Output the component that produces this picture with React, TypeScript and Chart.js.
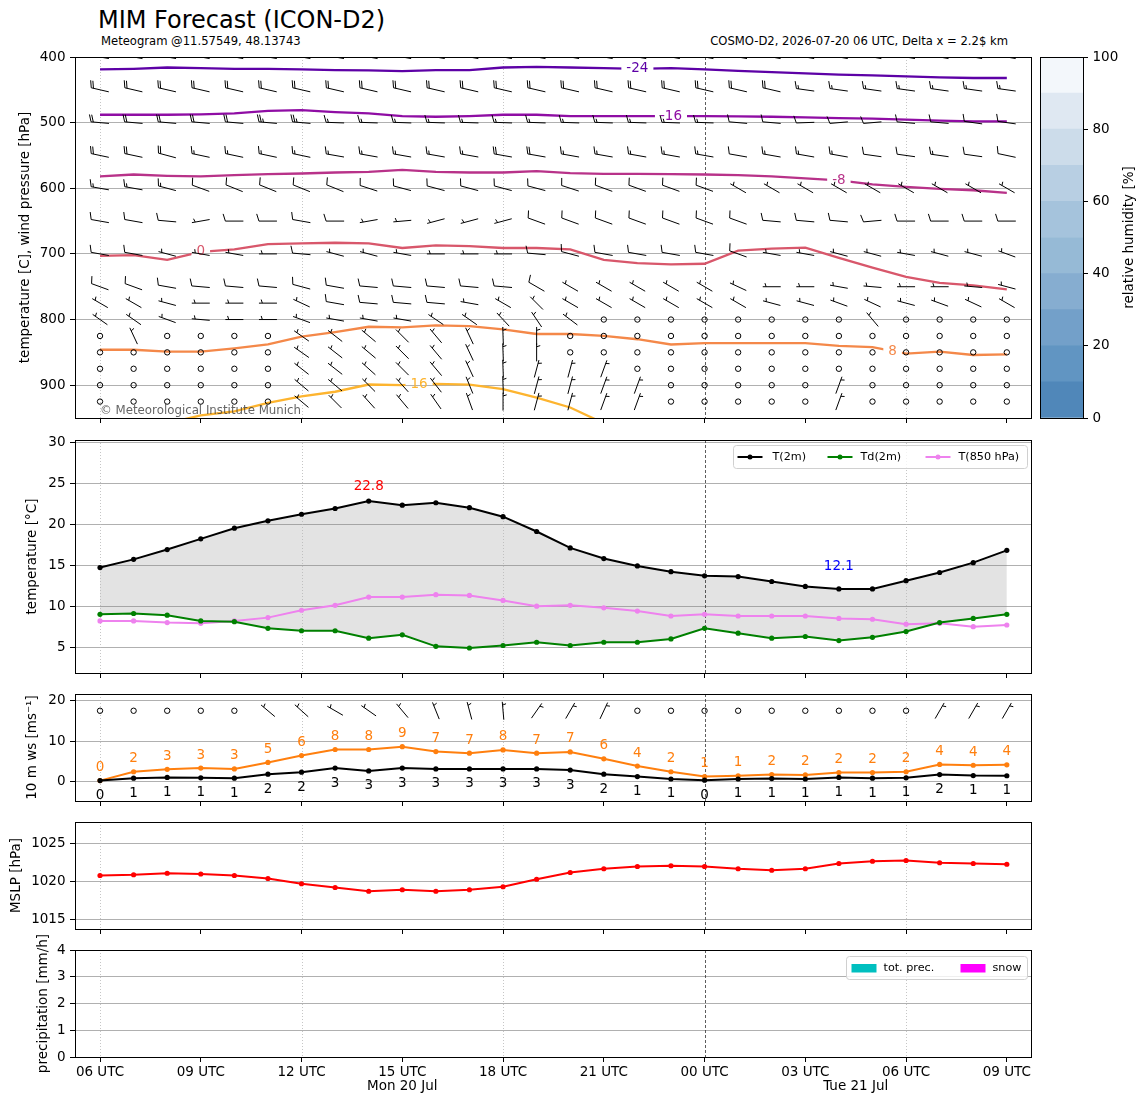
import React, { useEffect, useRef } from 'react';
import { Chart, registerables } from 'chart.js';

Chart.register(...registerables);

const FONT = '"DejaVu Sans", "Liberation Sans", sans-serif';
const FS = 13.5;

// ---------------- time axis (hours after 2026-07-20 06 UTC) ----------------
const HOURS = [0, 1, 2, 3, 4, 5, 6, 7, 8, 9, 10, 11, 12, 13, 14, 15, 16, 17, 18, 19, 20, 21, 22, 23, 24, 25, 26, 27];
const X_MIN = -0.745;
const X_MAX = 27.72;
const TICK_HOURS = [0, 3, 6, 9, 12, 15, 18, 21, 24, 27];
const TICK_LABELS = ['06 UTC', '09 UTC', '12 UTC', '15 UTC', '18 UTC', '21 UTC', '00 UTC', '03 UTC', '06 UTC', '09 UTC'];
const DAY_LABELS = ['Mon 20 Jul', 'Tue 21 Jul'];
const DAY_LABEL_HOURS = [9, 22.5];
const DOTTED_HOURS = [0, 6, 12, 24];
const MIDNIGHT_HOURS = [18];

// ---------------- upper panel: isotherms (pressure in hPa per hour) ----------------
const ISO_M24 = [419, 418, 416, 417, 418, 418, 419, 420, 420.5, 421.5, 420, 420, 416, 415, 416, 417, 418, 417, 419, 421, 423, 425, 427, 428, 429.5, 431, 432, 432];
const ISO_M16 = [488, 488, 488, 487.5, 486, 482, 481, 484, 486, 490, 491, 490, 488, 488, 490, 490, 490, 490, 490, 490.5, 491, 492, 493, 494, 495.5, 497, 498, 498];
const ISO_M8 = [582, 579, 581, 582, 580, 578.5, 577.5, 576, 575, 572, 575, 576, 576, 574, 577, 578, 578, 578.5, 579, 580, 582, 585, 588, 594, 598, 601, 603, 607];
const ISO_0 = [703, 702, 709, 697, 693, 685, 684, 683, 684, 691, 687, 688, 691, 691, 693, 709, 714, 716, 715, 695, 692, 690.5, 706, 721, 735, 744, 748, 754];
const ISO_P8 = [846, 846, 849, 849, 844, 838, 826, 819, 811, 812, 809, 810, 815, 822, 822, 825, 830, 838, 836, 836, 836, 836, 840, 842, 852, 849, 854, 853];
const ISO_P16 = [null, null, 958, 946, 940, 927, 917, 910, 899, 900, 898, 899, 906, 919, 934, 958, null, null, null, null, null, null, null, null, null, null, null, null];
const ISO_LABELS = ['-24', '-16', '-8', '0', '8', '16'];
const ISO_COLORS = ['#5d01a6', '#8f0da4', '#b83289', '#d8576b', '#f48849', '#fdb42f'];
const ISO_LABEL_HOURS = [16, 17, 22, 3, 23.6, 9.5];

// ---------------- upper panel: wind barbs (speed kt, direction deg) ----------------
const BARB_LEVELS = [400, 450, 500, 550, 600, 650, 700, 750, 775, 800, 825, 850, 875, 900, 925];
const WS_400 = [20, 20, 20, 20, 20, 20, 20, 20, 20, 20, 20, 20, 20, 20, 20, 20, 20, 20, 20, 20, 20, 20, 20, 20, 20, 20, 20, 20];
const DIR_400 = [280, 280, 280, 280, 280, 280, 280, 280, 280, 280, 280, 280, 280, 280, 280, 280, 280, 280, 280, 280, 280, 280, 280, 280, 280, 280, 280, 280];
const WS_450 = [20, 20, 20, 20, 20, 20, 20, 20, 20, 20, 20, 20, 20, 20, 20, 20, 20, 20, 20, 20, 20, 15, 15, 15, 15, 15, 15, 15];
const DIR_450 = [283, 283, 283, 283, 283, 283, 283, 283, 283, 283, 283, 283, 283, 283, 283, 283, 283, 283, 283, 283, 283, 278, 278, 278, 278, 278, 278, 278];
const WS_500 = [20, 20, 20, 20, 20, 25, 25, 15, 15, 15, 15, 15, 15, 15, 15, 15, 15, 15, 15, 10, 10, 10, 10, 10, 10, 10, 10, 10];
const DIR_500 = [275, 275, 275, 275, 275, 275, 275, 272, 272, 272, 272, 272, 272, 272, 272, 272, 272, 272, 272, 275, 275, 268, 265, 265, 275, 275, 278, 278];
const WS_550 = [20, 20, 20, 15, 15, 15, 15, 15, 15, 15, 15, 15, 20, 20, 15, 15, 15, 15, 15, 10, 15, 15, 15, 10, 10, 15, 10, 10];
const DIR_550 = [282, 282, 285, 282, 282, 282, 282, 280, 280, 280, 280, 280, 280, 280, 280, 280, 280, 280, 280, 280, 280, 280, 280, 278, 278, 278, 278, 282];
const WS_600 = [15, 15, 15, 10, 10, 10, 10, 10, 10, 10, 10, 10, 10, 10, 10, 10, 10, 10, 10, 5, 5, 5, 5, 5, 5, 5, 5, 5];
const DIR_600 = [280, 280, 285, 290, 292, 292, 292, 292, 288, 285, 285, 285, 285, 285, 288, 290, 290, 290, 290, 300, 300, 300, 300, 300, 300, 300, 300, 300];
const WS_650 = [10, 10, 10, 5, 10, 10, 10, 10, 5, 5, 5, 5, 5, 10, 10, 10, 10, 10, 10, 10, 10, 10, 10, 10, 10, 10, 10, 10];
const DIR_650 = [280, 280, 275, 260, 270, 270, 280, 270, 260, 265, 255, 255, 255, 290, 290, 290, 290, 290, 290, 290, 275, 275, 275, 265, 270, 270, 270, 270];
const WS_700 = [10, 10, 5, 5, 5, 5, 10, 5, 5, 5, 5, 5, 5, 10, 10, 10, 10, 10, 10, 10, 5, 5, 5, 5, 5, 5, 5, 5];
const DIR_700 = [280, 280, 285, 280, 280, 270, 275, 285, 285, 280, 270, 270, 270, 275, 285, 280, 280, 280, 280, 290, 280, 280, 285, 285, 280, 285, 285, 290];
const WS_750 = [10, 10, 10, 10, 10, 10, 10, 10, 10, 10, 10, 10, 10, 10, 5, 5, 5, 5, 5, 5, 5, 5, 5, 5, 5, 5, 5, 5];
const DIR_750 = [290, 290, 280, 275, 275, 275, 285, 280, 275, 275, 275, 275, 275, 300, 300, 300, 300, 300, 300, 295, 270, 270, 280, 275, 270, 270, 275, 285];
const WS_775 = [5, 5, 5, 5, 5, 5, 5, 10, 10, 10, 10, 5, 5, 5, 5, 5, 5, 5, 5, 5, 5, 5, 5, 5, 5, 5, 5, 5];
const DIR_775 = [300, 300, 285, 270, 270, 270, 295, 280, 275, 275, 275, 280, 300, 315, 300, 300, 300, 300, 300, 300, 285, 285, 290, 295, 285, 290, 295, 300];
const WS_800 = [5, 5, 5, 5, 5, 5, 5, 5, 5, 5, 5, 5, 5, 5, 5, 0, 0, 0, 0, 0, 0, 0, 0, 5, 0, 0, 0, 0];
const DIR_800 = [305, 305, 290, 275, 270, 270, 290, 280, 280, 280, 304, 305, 317, 326, 307, 0, 0, 0, 0, 0, 0, 0, 0, 320, 0, 0, 0, 0];
const WS_825 = [0, 5, 0, 0, 0, 0, 5, 5, 5, 5, 5, 5, 5, 5, 0, 0, 0, 0, 0, 0, 0, 0, 0, 0, 0, 0, 0, 0];
const DIR_825 = [0, 335, 0, 0, 0, 0, 305, 308, 310, 315, 320, 335, 358, 360, 0, 0, 0, 0, 0, 0, 0, 0, 0, 0, 0, 0, 0, 0];
const WS_850 = [0, 0, 0, 0, 0, 0, 5, 5, 5, 5, 5, 5, 5, 5, 0, 0, 0, 0, 0, 0, 0, 0, 0, 0, 0, 0, 0, 0];
const DIR_850 = [0, 0, 0, 0, 0, 0, 305, 308, 310, 315, 320, 335, 358, 360, 0, 0, 0, 0, 0, 0, 0, 0, 0, 0, 0, 0, 0, 0];
const WS_875 = [0, 0, 0, 0, 0, 0, 5, 5, 5, 5, 5, 5, 5, 5, 5, 5, 0, 0, 0, 0, 0, 0, 0, 0, 0, 0, 0, 0];
const DIR_875 = [0, 0, 0, 0, 0, 0, 308, 308, 312, 315, 320, 335, 358, 15, 15, 20, 0, 0, 0, 0, 0, 0, 0, 0, 0, 0, 0, 0];
const WS_900 = [0, 0, 0, 0, 0, 0, 5, 5, 5, 5, 5, 5, 5, 5, 5, 5, 5, 0, 0, 0, 0, 0, 5, 0, 0, 0, 0, 0];
const DIR_900 = [0, 0, 0, 0, 0, 0, 310, 310, 315, 318, 322, 338, 358, 15, 15, 20, 20, 0, 0, 0, 0, 0, 20, 0, 0, 0, 0, 0];
const WS_925 = [0, 0, 0, 0, 0, 0, 5, 5, 5, 5, 5, 5, 5, 5, 5, 5, 5, 0, 0, 0, 0, 0, 5, 0, 0, 0, 0, 0];
const DIR_925 = [0, 0, 0, 0, 0, 0, 310, 315, 318, 320, 325, 340, 360, 15, 15, 20, 20, 0, 0, 0, 0, 0, 20, 0, 0, 0, 0, 0];

// ---------------- relative humidity colour bar ----------------
const RH_BOUNDS = [0, 10, 20, 30, 40, 50, 60, 70, 80, 90, 100];
const RH_COLORS = ['#5087b9', '#6195c2', '#73a0c9', '#86add0', '#96bad6', '#a5c3dc', '#b8cfe3', '#ccdcea', '#dfe8f2', '#f3f7fb'];
const RH_TICKS = [0, 20, 40, 60, 80, 100];

// ---------------- 2 m temperature panel ----------------
const T2M = [14.7, 15.7, 16.9, 18.2, 19.5, 20.4, 21.2, 21.9, 22.8, 22.3, 22.6, 22.0, 20.9, 19.1, 17.1, 15.8, 14.9, 14.2, 13.7, 13.6, 13.0, 12.4, 12.1, 12.1, 13.1, 14.1, 15.3, 16.8];
const TD2M = [9.0, 9.1, 8.9, 8.2, 8.1, 7.3, 7.0, 7.0, 6.1, 6.5, 5.1, 4.9, 5.2, 5.6, 5.2, 5.6, 5.6, 6.0, 7.3, 6.7, 6.1, 6.3, 5.8, 6.2, 6.9, 8.0, 8.5, 9.0];
const T850 = [8.2, 8.2, 8.0, 7.9, 8.2, 8.6, 9.5, 10.1, 11.1, 11.1, 11.4, 11.3, 10.7, 10.0, 10.1, 9.8, 9.4, 8.8, 9.0, 8.8, 8.8, 8.8, 8.5, 8.4, 7.8, 7.9, 7.5, 7.7];
const TEMP_TICKS = [5, 10, 15, 20, 25, 30];

// ---------------- 10 m wind panel (m/s) ----------------
const WS10 = [0.2, 0.8, 1.0, 0.9, 0.8, 1.8, 2.3, 3.3, 2.6, 3.3, 3.1, 3.1, 3.1, 3.1, 2.8, 1.8, 1.2, 0.6, 0.3, 0.6, 0.7, 0.6, 1.0, 0.8, 0.9, 1.7, 1.45, 1.4];
const GUST10 = [0.2, 2.4, 3.0, 3.3, 3.1, 4.7, 6.4, 7.9, 7.9, 8.6, 7.4, 7.0, 7.8, 7.0, 7.3, 5.6, 3.8, 2.4, 1.2, 1.4, 1.7, 1.6, 2.2, 2.2, 2.4, 4.2, 4.0, 4.1];
const DIR10 = [330, 330, 330, 330, 330, 310, 312, 300, 305, 320, 338, 345, 355, 35, 30, 25, 20, 20, 20, 20, 20, 20, 20, 20, 20, 30, 30, 30];
const WIND_TICKS = [0, 10, 20];
const WIND_BARB_Y = 17.5;
const MS_TO_KT = 1.94384;

// ---------------- MSLP panel ----------------
const MSLP = [1020.8, 1020.9, 1021.1, 1021.0, 1020.8, 1020.4, 1019.7, 1019.2, 1018.7, 1018.9, 1018.7, 1018.9, 1019.3, 1020.3, 1021.2, 1021.7, 1022.0, 1022.1, 1022.0, 1021.7, 1021.5, 1021.7, 1022.4, 1022.7, 1022.8, 1022.5, 1022.4, 1022.3];
const MSLP_TICKS = [1015, 1020, 1025];

// ---------------- precipitation panel ----------------
const PREC_TOTAL = [0, 0, 0, 0, 0, 0, 0, 0, 0, 0, 0, 0, 0, 0, 0, 0, 0, 0, 0, 0, 0, 0, 0, 0, 0, 0, 0, 0];
const PREC_SNOW = [0, 0, 0, 0, 0, 0, 0, 0, 0, 0, 0, 0, 0, 0, 0, 0, 0, 0, 0, 0, 0, 0, 0, 0, 0, 0, 0, 0];
const PREC_TICKS = [0, 1, 2, 3, 4];

// ---------------- layout ----------------
const CANVAS_W = 1148;
const PLOT_LEFT = 75;
const PLOT_RIGHT = 1031;
const PANEL_TOPS = [57, 440, 694, 822, 950];
const PANEL_BOTTOMS = [418, 673, 801, 929, 1057];
const TITLE_X = [25, 32, 32, 16, 43];
const PAD_TOP = 16;
const PAD_BOTTOM = 8;
const XAXIS_SMALL = 6;
const XAXIS_BIG = 46;
const BARB_LEN = 18;

const ISOTHERMS = [ISO_M24, ISO_M16, ISO_M8, ISO_0, ISO_P8, ISO_P16].map((data, k) => ({
  data,
  label: ISO_LABELS[k],
  color: ISO_COLORS[k],
  labelHour: ISO_LABEL_HOURS[k],
}));

const BARB_ROWS = [
  [WS_400, DIR_400], [WS_450, DIR_450], [WS_500, DIR_500], [WS_550, DIR_550], [WS_600, DIR_600],
  [WS_650, DIR_650], [WS_700, DIR_700], [WS_750, DIR_750], [WS_775, DIR_775], [WS_800, DIR_800],
  [WS_825, DIR_825], [WS_850, DIR_850], [WS_875, DIR_875], [WS_900, DIR_900], [WS_925, DIR_925],
].map((r, k) => ({ level: BARB_LEVELS[k], speed: r[0], dir: r[1] }));

function interp(arr: (number | null)[], h: number): number {
  const i0 = Math.floor(h);
  const i1 = Math.min(i0 + 1, arr.length - 1);
  const a = arr[i0] as number;
  const b = arr[i1] as number;
  return a + (b - a) * (h - i0);
}

function drawBarb(ctx: CanvasRenderingContext2D, cx: number, cy: number, speedKt: number, dirDeg: number, L: number) {
  const HALF = 5, FULL = 10, FLAG = 50;
  let mag = HALF * Math.round(speedKt / HALF);
  const nFlags = Math.floor(mag / FLAG);
  mag -= nFlags * FLAG;
  const nBarbs = Math.floor(mag / FULL);
  mag -= nBarbs * FULL;
  const half = mag >= HALF;
  ctx.beginPath();
  if (nFlags === 0 && nBarbs === 0 && !half) {
    ctx.arc(cx, cy, 0.15 * L, 0, Math.PI * 2);
    ctx.stroke();
    return;
  }
  const rad = (dirDeg * Math.PI) / 180;
  const u = -Math.sin(rad);
  const v = -Math.cos(rad);
  const th = Math.atan2(v, u) + Math.PI / 2;
  const c = Math.cos(th), s = Math.sin(th);
  const P = (bx: number, by: number) => [cx + bx * c - by * s, cy - (bx * s + by * c)];
  const spacing = L * 0.125, fh = L * 0.4, fw = L * 0.25;
  const endy = -L / 2;
  let p = P(0, endy);
  ctx.moveTo(p[0], p[1]);
  p = P(0, endy + L);
  ctx.lineTo(p[0], p[1]);
  let offset = L;
  for (let i = 0; i < nFlags; i++) {
    const a = P(0, endy + offset), b = P(fh, endy - fw / 2 + offset), d = P(0, endy - fw + offset);
    ctx.moveTo(a[0], a[1]);
    ctx.lineTo(b[0], b[1]);
    ctx.lineTo(d[0], d[1]);
    offset -= fw + spacing;
  }
  for (let i = 0; i < nBarbs; i++) {
    const a = P(0, endy + offset), b = P(fh, endy + offset + fw / 2);
    ctx.moveTo(a[0], a[1]);
    ctx.lineTo(b[0], b[1]);
    offset -= spacing;
  }
  if (half) {
    if (offset === L) offset -= 1.5 * spacing;
    const a = P(0, endy + offset), b = P(fh / 2, endy + offset + fw / 4);
    ctx.moveTo(a[0], a[1]);
    ctx.lineTo(b[0], b[1]);
  }
  ctx.stroke();
}

const font = (size = FS) => `${size}px ${FONT}`;

function xAxis(showLabels: boolean): any {
  return {
    type: 'linear',
    min: X_MIN,
    max: X_MAX,
    offset: false,
    afterBuildTicks: (s: any) => {
      s.ticks = TICK_HOURS.map((v) => ({ value: v }));
    },
    afterFit: (s: any) => {
      s.height = showLabels ? XAXIS_BIG : XAXIS_SMALL;
    },
    grid: { offset: false, drawOnChartArea: false, drawTicks: true, tickLength: 5, tickColor: '#000', lineWidth: 1 },
    border: { display: false },
    ticks: {
      display: showLabels,
      autoSkip: false,
      maxRotation: 0,
      minRotation: 0,
      padding: 2,
      color: '#000',
      font: { family: FONT, size: FS },
      callback: (_v: number, i: number) => TICK_LABELS[i],
    },
  };
}

function yAxis(o: { min: number; max: number; ticks: number[]; title: string; titleX: number; reverse?: boolean }): any {
  const padLeft = o.titleX - FS * 0.6;
  return {
    type: 'linear',
    min: o.min,
    max: o.max,
    reverse: !!o.reverse,
    afterBuildTicks: (s: any) => {
      s.ticks = o.ticks.map((v) => ({ value: v }));
    },
    afterFit: (s: any) => {
      s.width = PLOT_LEFT - padLeft;
    },
    grid: { color: '#b0b0b0', lineWidth: 1, drawTicks: true, tickLength: 5, tickColor: '#000' },
    border: { display: false },
    ticks: { color: '#000', padding: 4.5, font: { family: FONT, size: FS }, callback: (v: number) => String(v) },
    title: { display: true, text: o.title, color: '#000', font: { family: FONT, size: FS }, padding: 0 },
  };
}

const framePlugin = {
  id: 'frame',
  beforeDatasetsDraw(chart: any) {
    const { ctx, chartArea: a, scales } = chart;
    const x = scales.x;
    ctx.save();
    ctx.lineWidth = 0.8;
    ctx.strokeStyle = '#b8b8b8';
    ctx.setLineDash([1, 2]);
    for (const h of DOTTED_HOURS) {
      const px = Math.round(x.getPixelForValue(h)) + 0.5;
      ctx.beginPath();
      ctx.moveTo(px, a.top);
      ctx.lineTo(px, a.bottom);
      ctx.stroke();
    }
    ctx.strokeStyle = '#333';
    ctx.setLineDash([3, 2]);
    for (const h of MIDNIGHT_HOURS) {
      const px = Math.round(x.getPixelForValue(h)) + 0.5;
      ctx.beginPath();
      ctx.moveTo(px, a.top);
      ctx.lineTo(px, a.bottom);
      ctx.stroke();
    }
    ctx.restore();
  },
  afterDraw(chart: any) {
    const { ctx, chartArea: a } = chart;
    ctx.save();
    ctx.strokeStyle = '#000';
    ctx.lineWidth = 1;
    ctx.setLineDash([]);
    ctx.strokeRect(Math.round(a.left) + 0.5, Math.round(a.top) + 0.5, Math.round(a.right - a.left), Math.round(a.bottom - a.top));
    ctx.restore();
  },
};

const topPlugin = {
  id: 'topPanel',
  beforeDatasetsDraw(chart: any) {
    const { ctx, scales } = chart;
    const { x, y } = scales;
    ctx.save();
    ctx.font = font();
    ctx.beginPath();
    ctx.rect(0, 0, chart.width, chart.height);
    ISOTHERMS.forEach((iso) => {
      const px = x.getPixelForValue(iso.labelHour);
      const py = y.getPixelForValue(interp(iso.data, iso.labelHour));
      const w = ctx.measureText(iso.label).width + 10;
      ctx.rect(px - w / 2, py - 8, w, 16);
    });
    ctx.clip('evenodd');
  },
  afterDatasetsDraw(chart: any) {
    const { ctx, chartArea: a, scales } = chart;
    const { x, y } = scales;
    ctx.restore();
    ctx.save();
    ctx.font = font();
    ctx.textAlign = 'center';
    ctx.textBaseline = 'middle';
    ISOTHERMS.forEach((iso) => {
      const px = x.getPixelForValue(iso.labelHour);
      const py = y.getPixelForValue(interp(iso.data, iso.labelHour));
      ctx.fillStyle = iso.color;
      ctx.fillText(iso.label, px, py);
    });
    ctx.beginPath();
    ctx.rect(a.left, a.top, a.right - a.left, a.bottom - a.top);
    ctx.clip();
    ctx.strokeStyle = '#000';
    ctx.fillStyle = '#000';
    ctx.lineWidth = 1;
    BARB_ROWS.forEach((row) => {
      HOURS.forEach((h, i) => {
        drawBarb(ctx, x.getPixelForValue(h), y.getPixelForValue(row.level), row.speed[i], row.dir[i], BARB_LEN);
      });
    });
    ctx.fillStyle = 'rgba(60,60,60,0.8)';
    ctx.font = font(11.8);
    ctx.textAlign = 'left';
    ctx.textBaseline = 'alphabetic';
    ctx.fillText('\u00A9 Meteorological Institute Munich', a.left + 25, a.bottom - 4.5);
    ctx.restore();
  },
};

const LEGEND_T = [
  { label: 'T(2m)', color: '#000000', lineX: 4, textX: 39 },
  { label: 'Td(2m)', color: '#008000', lineX: 94, textX: 127 },
  { label: 'T(850 hPa)', color: '#ee82ee', lineX: 192, textX: 225 },
];

function drawLegendBox(ctx: CanvasRenderingContext2D, left: number, top: number, w: number, h: number) {
  ctx.beginPath();
  const r = 3;
  ctx.moveTo(left + r, top);
  ctx.lineTo(left + w - r, top);
  ctx.arcTo(left + w, top, left + w, top + r, r);
  ctx.lineTo(left + w, top + h - r);
  ctx.arcTo(left + w, top + h, left + w - r, top + h, r);
  ctx.lineTo(left + r, top + h);
  ctx.arcTo(left, top + h, left, top + h - r, r);
  ctx.lineTo(left, top + r);
  ctx.arcTo(left, top, left + r, top, r);
  ctx.closePath();
  ctx.fillStyle = 'rgba(255,255,255,0.8)';
  ctx.fill();
  ctx.strokeStyle = '#d0d0d0';
  ctx.lineWidth = 1;
  ctx.stroke();
}

const tempPlugin = {
  id: 'tempPanel',
  afterDatasetsDraw(chart: any) {
    const { ctx, chartArea: a, scales } = chart;
    const { x, y } = scales;
    let iMax = 0, iMin = 0;
    T2M.forEach((v, i) => {
      if (v > T2M[iMax]) iMax = i;
      if (v < T2M[iMin]) iMin = i;
    });
    ctx.save();
    ctx.font = font();
    ctx.textAlign = 'center';
    ctx.textBaseline = 'middle';
    ctx.fillStyle = '#ff0000';
    ctx.fillText(T2M[iMax].toFixed(1), x.getPixelForValue(HOURS[iMax]), y.getPixelForValue(T2M[iMax]) - 15);
    ctx.fillStyle = '#0000ff';
    ctx.fillText(T2M[iMin].toFixed(1), x.getPixelForValue(HOURS[iMin]), y.getPixelForValue(T2M[iMin]) - 22);

    const bw = 294, bh = 23;
    const left = Math.round(a.right) - 4 - bw + 0.5;
    const top = Math.round(a.top) + 5 + 0.5;
    drawLegendBox(ctx, left, top, bw, bh);
    ctx.font = font(11.2);
    ctx.textAlign = 'left';
    LEGEND_T.forEach((it) => {
      const cy = top + bh / 2;
      ctx.strokeStyle = it.color;
      ctx.lineWidth = 2;
      ctx.beginPath();
      ctx.moveTo(left + it.lineX, cy);
      ctx.lineTo(left + it.lineX + 25, cy);
      ctx.stroke();
      ctx.fillStyle = it.color;
      ctx.beginPath();
      ctx.arc(left + it.lineX + 12.5, cy, 2.5, 0, Math.PI * 2);
      ctx.fill();
      ctx.fillStyle = '#000';
      ctx.fillText(it.label, left + it.textX, cy);
    });
    ctx.restore();
  },
};

const windPlugin = {
  id: 'windPanel',
  afterDatasetsDraw(chart: any) {
    const { ctx, scales } = chart;
    const { x, y } = scales;
    ctx.save();
    ctx.font = font();
    ctx.textAlign = 'center';
    ctx.textBaseline = 'middle';
    ctx.strokeStyle = '#000';
    ctx.lineWidth = 1;
    HOURS.forEach((h, i) => {
      const px = x.getPixelForValue(h);
      ctx.fillStyle = '#ff7f0e';
      ctx.fillText(String(Math.round(GUST10[i])), px, y.getPixelForValue(GUST10[i]) - 13);
      ctx.fillStyle = '#000';
      ctx.fillText(String(Math.round(WS10[i])), px, y.getPixelForValue(WS10[i]) + 15);
      drawBarb(ctx, px, y.getPixelForValue(WIND_BARB_Y), WS10[i] * MS_TO_KT, DIR10[i], BARB_LEN);
    });
    ctx.restore();
  },
};

const LEGEND_P = [
  { label: 'tot. prec.', color: '#00bfbf', patchX: 5, textX: 37 },
  { label: 'snow', color: '#ff00ff', patchX: 114, textX: 146 },
];

const precPlugin = {
  id: 'precPanel',
  afterDraw(chart: any) {
    const { ctx, chartArea: a, scales } = chart;
    const x = scales.x;
    ctx.save();
    const bw = 181, bh = 23;
    const left = Math.round(a.right) - 4 - bw + 0.5;
    const top = Math.round(a.top) + 6 + 0.5;
    drawLegendBox(ctx, left, top, bw, bh);
    ctx.font = font(11.2);
    ctx.textAlign = 'left';
    ctx.textBaseline = 'middle';
    LEGEND_P.forEach((it) => {
      const cy = top + bh / 2;
      ctx.fillStyle = it.color;
      ctx.fillRect(left + it.patchX, cy - 4, 25, 8.5);
      ctx.fillStyle = '#000';
      ctx.fillText(it.label, left + it.textX, cy);
    });
    ctx.font = font();
    ctx.textAlign = 'center';
    DAY_LABELS.forEach((t, k) => {
      ctx.fillText(t, x.getPixelForValue(DAY_LABEL_HOURS[k]), a.bottom + 29.7);
    });
    ctx.restore();
  },
};

const colorbarPlugin = {
  id: 'colorbar',
  afterDraw(chart: any) {
    const { ctx, chartArea: a } = chart;
    ctx.save();
    ctx.strokeStyle = '#000';
    ctx.lineWidth = 1;
    ctx.strokeRect(Math.round(a.left) + 0.5, Math.round(a.top) + 0.5, Math.round(a.right - a.left), Math.round(a.bottom - a.top));
    ctx.translate(99, (a.top + a.bottom) / 2);
    ctx.rotate(-Math.PI / 2);
    ctx.font = font();
    ctx.fillStyle = '#000';
    ctx.textAlign = 'center';
    ctx.textBaseline = 'middle';
    ctx.fillText('relative humidity [%]', 0, 0);
    ctx.restore();
  },
};

const pts = (vals: (number | null)[]) => HOURS.map((h, i) => ({ x: h, y: vals[i] }));

function panelGeom(k: number) {
  const last = k === 4;
  const h = PAD_TOP + (PANEL_BOTTOMS[k] - PANEL_TOPS[k]) + (last ? XAXIS_BIG : XAXIS_SMALL + PAD_BOTTOM);
  return { left: 0, top: PANEL_TOPS[k] - PAD_TOP, width: CANVAS_W, height: h };
}

function makePanel(canvas: HTMLCanvasElement, k: number, type: any, datasets: any[], y: any, plugins: any[]) {
  const last = k === 4;
  return new Chart(canvas, {
    type,
    data: { datasets },
    options: {
      animation: false,
      responsive: false,
      maintainAspectRatio: false,
      layout: {
        padding: { left: TITLE_X[k] - FS * 0.6, right: CANVAS_W - PLOT_RIGHT, top: PAD_TOP, bottom: last ? 0 : PAD_BOTTOM },
      },
      plugins: {
        legend: { display: false },
        tooltip: { enabled: false },
        filler: { drawTime: 'beforeDatasetsDraw' },
      },
      elements: { line: { tension: 0 } },
      scales: { x: xAxis(last), y },
    } as any,
    plugins: [framePlugin, ...plugins],
  });
}

const lineDs = (label: string, vals: number[], color: string, extra: any = {}) => ({
  label,
  data: pts(vals),
  borderColor: color,
  backgroundColor: color,
  borderWidth: 2,
  pointRadius: 2.6,
  pointBorderWidth: 0,
  pointBackgroundColor: color,
  fill: false,
  ...extra,
});

const PANELS = [
  {
    geom: panelGeom(0),
    build: (c: HTMLCanvasElement) =>
      makePanel(
        c,
        0,
        'line',
        ISOTHERMS.map((iso) => ({
          label: iso.label,
          data: pts(iso.data),
          borderColor: iso.color,
          borderWidth: 2.3,
          pointRadius: 0,
          fill: false,
          spanGaps: false,
        })),
        yAxis({ min: 400, max: 950, ticks: [400, 500, 600, 700, 800, 900], title: 'temperature [C], wind pressure [hPa]', titleX: TITLE_X[0], reverse: true }),
        [topPlugin]
      ),
  },
  {
    geom: panelGeom(1),
    build: (c: HTMLCanvasElement) =>
      makePanel(
        c,
        1,
        'line',
        [
          lineDs('T(2m)', T2M, '#000000', { fill: { target: 1, above: 'rgba(128,128,128,0.22)', below: 'rgba(128,128,128,0.22)' } }),
          lineDs('Td(2m)', TD2M, '#008000'),
          lineDs('T(850 hPa)', T850, '#ee82ee'),
        ],
        yAxis({ min: 1.85, max: 30.25, ticks: TEMP_TICKS, title: 'temperature [\u00B0C]', titleX: TITLE_X[1] }),
        [tempPlugin]
      ),
  },
  {
    geom: panelGeom(2),
    build: (c: HTMLCanvasElement) =>
      makePanel(
        c,
        2,
        'line',
        [lineDs('ws', WS10, '#000000'), lineDs('gust', GUST10, '#ff7f0e')],
        yAxis({ min: -4.85, max: 21.65, ticks: WIND_TICKS, title: '10 m ws [ms\u207B\u00B9]', titleX: TITLE_X[2] }),
        [windPlugin]
      ),
  },
  {
    geom: panelGeom(3),
    build: (c: HTMLCanvasElement) =>
      makePanel(
        c,
        3,
        'line',
        [lineDs('MSLP', MSLP, '#ff0000')],
        yAxis({ min: 1013.67, max: 1027.93, ticks: MSLP_TICKS, title: 'MSLP [hPa]', titleX: TITLE_X[3] }),
        []
      ),
  },
  {
    geom: panelGeom(4),
    build: (c: HTMLCanvasElement) =>
      makePanel(
        c,
        4,
        'bar',
        [
          { label: 'tot. prec.', data: pts(PREC_TOTAL), backgroundColor: '#00bfbf', borderWidth: 0, barPercentage: 0.8, categoryPercentage: 1 },
          { label: 'snow', data: pts(PREC_SNOW), backgroundColor: '#ff00ff', borderWidth: 0, barPercentage: 0.8, categoryPercentage: 1 },
        ],
        yAxis({ min: 0, max: 4, ticks: PREC_TICKS, title: 'precipitation [mm/h]', titleX: TITLE_X[4] }),
        [precPlugin]
      ),
  },
  {
    geom: { left: 1030, top: PANEL_TOPS[0] - PAD_TOP, width: 118, height: PAD_TOP + (PANEL_BOTTOMS[0] - PANEL_TOPS[0]) + 14 },
    build: (c: HTMLCanvasElement) =>
      new Chart(c, {
        type: 'bar',
        data: {
          labels: [''],
          datasets: RH_COLORS.map((col, k) => ({
            label: String(RH_BOUNDS[k]),
            data: [RH_BOUNDS[k + 1] - RH_BOUNDS[k]],
            backgroundColor: col,
            borderWidth: 0,
            barPercentage: 1,
            categoryPercentage: 1,
          })),
        },
        options: {
          animation: false,
          responsive: false,
          maintainAspectRatio: false,
          layout: { padding: { left: 10, right: 0, top: PAD_TOP, bottom: 14 } },
          plugins: { legend: { display: false }, tooltip: { enabled: false } },
          scales: {
            x: { display: false, stacked: true },
            y: {
              stacked: true,
              position: 'right',
              min: 0,
              max: 100,
              afterBuildTicks: (s: any) => {
                s.ticks = RH_TICKS.map((v) => ({ value: v }));
              },
              afterFit: (s: any) => {
                s.width = 65;
              },
              grid: { drawOnChartArea: false, drawTicks: true, tickLength: 5, tickColor: '#000' },
              border: { display: false },
              ticks: { color: '#000', padding: 4.5, font: { family: FONT, size: FS }, callback: (v: number) => String(v) },
            },
          },
        } as any,
        plugins: [colorbarPlugin],
      }),
  },
];

export default function App() {
  const refs = useRef<(HTMLCanvasElement | null)[]>([]);
  useEffect(() => {
    const charts = PANELS.map((p, i) => p.build(refs.current[i] as HTMLCanvasElement));
    return () => charts.forEach((c) => c.destroy());
  }, []);
  return (
    <div style={{ position: 'absolute', left: 0, top: 0, width: 1148, height: 1105, background: '#fff', fontFamily: FONT, overflow: 'hidden' }}>
      <div style={{ position: 'absolute', left: 98, top: 8, fontSize: 24, lineHeight: '24px', whiteSpace: 'nowrap', color: '#000' }}>MIM Forecast (ICON-D2)</div>
      <div style={{ position: 'absolute', left: 101, top: 35, fontSize: 11.6, lineHeight: '12px', whiteSpace: 'nowrap', color: '#000' }}>Meteogram @11.57549, 48.13743</div>
      <div style={{ position: 'absolute', left: 0, width: 1008, top: 35, fontSize: 11.6, lineHeight: '12px', whiteSpace: 'nowrap', textAlign: 'right', color: '#000' }}>
        COSMO-D2, 2026-07-20 06 UTC, Delta x = 2.2$ km
      </div>
      {PANELS.map((p, i) => (
        <canvas
          key={i}
          ref={(el) => {
            refs.current[i] = el;
          }}
          width={p.geom.width}
          height={p.geom.height}
          style={{ position: 'absolute', left: p.geom.left, top: p.geom.top, width: p.geom.width, height: p.geom.height }}
        />
      ))}
    </div>
  );
}
